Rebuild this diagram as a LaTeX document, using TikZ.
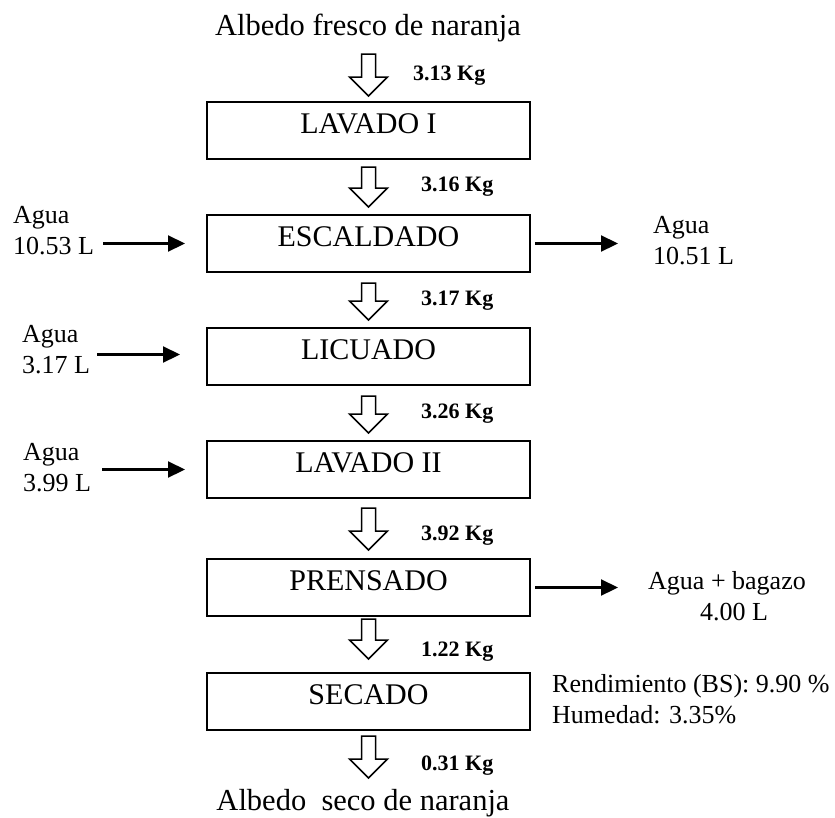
\documentclass[tikz,border=0pt]{standalone}
\usepackage{fontspec}
\setmainfont{Liberation Serif}
\usetikzlibrary{arrows.meta,calc}
\tikzset{
  procbox/.style={draw, line width=2pt, minimum width=323pt, minimum height=57pt,
    inner sep=0pt, text height=20pt, text depth=15pt, font=\fontsize{30}{36}\selectfont},
  titletext/.style={inner sep=0pt, anchor=base, font=\fontsize{30.5}{36}\selectfont},
  sidetext/.style={inner sep=0pt, anchor=base west, font=\fontsize{26}{31}\selectfont},
  sidetextc/.style={inner sep=0pt, anchor=base, font=\fontsize{26}{31}\selectfont},
  kgtext/.style={inner sep=0pt, anchor=base west, font=\fontsize{22}{26}\selectfont\bfseries},
  hollowstyle/.style={draw, line width=1.5pt, fill=white, line join=miter},
  sidearrow/.style={line width=2.2pt, -{Triangle[length=17pt,width=16pt]}}
}
\newcommand{\hollowarrow}[2]{%
  \draw[hollowstyle] let \p1=(#1), \p2=(#2) in
   (\x1-7pt,\y1) -- (\x1+7pt,\y1) -- (\x1+7pt,\y2+19pt) -- (\x1+19pt,\y2+19pt)
   -- (\x1,\y2) -- (\x1-19pt,\y2+19pt) -- (\x1-7pt,\y2+19pt) -- cycle;}
\begin{document}
\begin{tikzpicture}[x=1pt,y=-1pt]
\useasboundingbox (0,0) rectangle (835,817);
% titles
\node[titletext] (top) at (368,35) {Albedo fresco de naranja};
\node[titletext] (bot) at (363,810) {Albedo\ \ seco de naranja};
% process boxes
\node[procbox] (b1) at (368.5,130.5) {LAVADO I};
\node[procbox] (b2) at (368.5,243.5) {ESCALDADO};
\node[procbox] (b3) at (368.5,356.5) {LICUADO};
\node[procbox] (b4) at (368.5,469.5) {LAVADO II};
\node[procbox] (b5) at (368.5,587.5) {PRENSADO};
\node[procbox] (b6) at (368.5,701.5) {SECADO};
% hollow arrows
\hollowarrow{$(b1.north)+(0,-47)$}{$(b1.north)+(0,-5)$}
\hollowarrow{$(b1.south)+(0,7)$}{$(b2.north)+(0,-7)$}
\hollowarrow{$(b2.south)+(0,10)$}{$(b3.north)+(0,-7)$}
\hollowarrow{$(b3.south)+(0,10)$}{$(b4.north)+(0,-7)$}
\hollowarrow{$(b4.south)+(0,9)$}{$(b5.north)+(0,-8)$}
\hollowarrow{$(b5.south)+(0,2)$}{$(b6.north)+(0,-13)$}
\hollowarrow{$(b6.south)+(0,5)$}{$(b6.south)+(0,47)$}
% mass labels
\node[kgtext] (k1) at (413,80) {3.13 Kg};
\node[kgtext] (k2) at (421,191) {3.16 Kg};
\node[kgtext] (k3) at (421,305) {3.17 Kg};
\node[kgtext] (k4) at (421,418) {3.26 Kg};
\node[kgtext] (k5) at (421,540) {3.92 Kg};
\node[kgtext] (k6) at (421,656) {1.22 Kg};
\node[kgtext] (k7) at (421,770) {0.31 Kg};
% side inputs
\node[sidetext] (w1a) at (13,223) {Agua};
\node[sidetext] (w1b) at (13,254) {10.53 L};
\node[sidetext] (w2a) at (22,342) {Agua};
\node[sidetext] (w2b) at (22,373) {3.17 L};
\node[sidetext] (w3a) at (23,460) {Agua};
\node[sidetext] (w3b) at (23,491) {3.99 L};
% side outputs
\node[sidetext] (o1a) at (653,233) {Agua};
\node[sidetext] (o1b) at (653,264) {10.51 L};
\node[sidetextc] (o2a) at (727,589) {Agua + bagazo};
\node[sidetextc] (o2b) at (734,620) {4.00 L};
\node[sidetext] (r1) at (552,692) {Rendimiento (BS): 9.90 \%};
\node[sidetext] (r2) at (552,723) {Humedad: 3.35\%};
% side arrows
\draw[sidearrow] ([xshift=-103pt]b2.west) -- ([xshift=-21pt]b2.west);
\draw[sidearrow] ([xshift=-109pt,yshift=2pt]b3.west) -- ([xshift=-26pt,yshift=2pt]b3.west);
\draw[sidearrow] ([xshift=-104pt]b4.west) -- ([xshift=-21pt]b4.west);
\draw[sidearrow] ([xshift=4pt]b2.east) -- ([xshift=87pt]b2.east);
\draw[sidearrow] ([xshift=4pt]b5.east) -- ([xshift=87pt]b5.east);
\end{tikzpicture}
\end{document}
